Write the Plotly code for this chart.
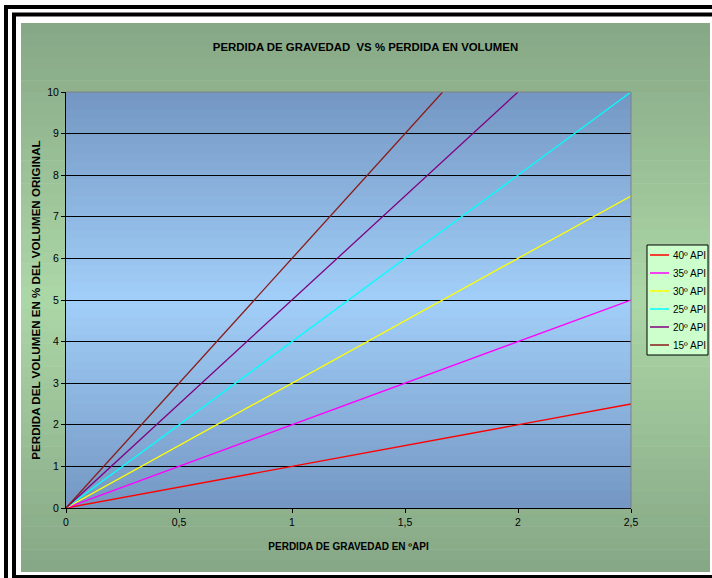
import plotly.graph_objects as go

# ---------------- data ----------------
series_names = ["40º API", "35º API", "30º API", "25º API", "20º API", "15º API"]
series_colors = ["#ff0000", "#ff00ff", "#ffff00", "#00ffff", "#800080", "#8b1a1a"]
x_40 = [0, 0.5, 1, 1.5, 2, 2.5]
y_40 = [0, 0.5, 1, 1.5, 2, 2.5]
x_35 = [0, 0.5, 1, 1.5, 2, 2.5]
y_35 = [0, 1, 2, 3, 4, 5]
x_30 = [0, 0.5, 1, 1.5, 2, 2.5]
y_30 = [0, 1.5, 3, 4.5, 6, 7.5]
x_25 = [0, 0.5, 1, 1.5, 2, 2.5]
y_25 = [0, 2, 4, 6, 8, 10]
x_20 = [0, 0.5, 1, 1.5, 2]
y_20 = [0, 2.5, 5, 7.5, 10]
x_15 = [0, 0.5, 1, 1.5, 1.6667]
y_15 = [0, 3, 6, 9, 10]
x_ticks = [0, 0.5, 1, 1.5, 2, 2.5]
y_ticks = [0, 1, 2, 3, 4, 5, 6, 7, 8, 9, 10]

title_text = "PERDIDA DE GRAVEDAD\u00a0 VS % PERDIDA EN VOLUMEN"
x_title = "PERDIDA DE GRAVEDAD EN ºAPI"
y_title = "PERDIDA DEL VOLUMEN EN % DEL VOLUMEN ORIGINAL"

# ---------------- layout geometry (pixels) ----------------
W, H = 712, 578
PL, PR, PT, PB = 66, 631, 92, 508
FONT = "Liberation Sans, Arial, sans-serif"


def xp(px):
    return (px - PL) / (PR - PL)


def yp(py):
    return (PB - py) / (PB - PT)


def hex2rgb(h):
    h = h.lstrip("#")
    return tuple(int(h[i:i + 2], 16) for i in (0, 2, 4))


def mix(c1, c2, t):
    a, b = hex2rgb(c1), hex2rgb(c2)
    return "rgb(%d,%d,%d)" % tuple(round(a[i] + (b[i] - a[i]) * t) for i in range(3))


def gradient_strips(x0, y0, x1, y1, edge, mid, n=48):
    out = []
    h = (y1 - y0) / n
    for i in range(n):
        t = (i + 0.5) / n
        k = 1 - abs(t - 0.5) * 2
        out.append(dict(type="rect", xref="paper", yref="paper", layer="below",
                        x0=xp(x0), x1=xp(x1), y0=yp(y0 + i * h),
                        y1=yp(min(y0 + (i + 1) * h + 0.6, y1)),
                        fillcolor=mix(edge, mid, k), line=dict(width=0)))
    return out


shapes = []
# double black frame
shapes.append(dict(type="rect", xref="paper", yref="paper", layer="below",
                   x0=xp(6), x1=xp(760), y0=yp(7), y1=yp(640),
                   line=dict(color="black", width=4), fillcolor="white"))
shapes.append(dict(type="rect", xref="paper", yref="paper", layer="below",
                   x0=xp(14), x1=xp(740), y0=yp(14.5), y1=yp(577),
                   line=dict(color="black", width=4), fillcolor="white"))
# chart area gradient (green)
shapes += gradient_strips(21, 23, 710, 572, "#86a786", "#acd7a6")
# plot area gradient (blue)
shapes += gradient_strips(PL, PT, PR, PB, "#7397c2", "#a2cff9")

fig = go.Figure()
xs = [x_40, x_35, x_30, x_25, x_20, x_15]
ys = [y_40, y_35, y_30, y_25, y_20, y_15]
for name, col, xv, yv in zip(series_names, series_colors, xs, ys):
    fig.add_trace(go.Scatter(x=xv, y=yv, mode="lines", name=name,
                             line=dict(color=col, width=1.3), showlegend=False))

# gray top/right plot border
shapes.append(dict(type="line", xref="paper", yref="paper", layer="above",
                   x0=0, x1=1, y0=1, y1=1, line=dict(color="#808080", width=1)))
shapes.append(dict(type="line", xref="paper", yref="paper", layer="above",
                   x0=1, x1=1, y0=0, y1=1, line=dict(color="#808080", width=1)))

# manual legend
LX0, LX1, LY0, LY1 = 647, 708, 245, 355
shapes.append(dict(type="rect", xref="paper", yref="paper", layer="above",
                   x0=xp(LX0), x1=xp(LX1), y0=yp(LY0), y1=yp(LY1),
                   fillcolor="#ccffcc", line=dict(color="black", width=1)))
annotations = []
for i, (name, col) in enumerate(zip(series_names, series_colors)):
    cy = 255 + i * 18
    shapes.append(dict(type="line", xref="paper", yref="paper", layer="above",
                       x0=xp(650), x1=xp(669), y0=yp(cy), y1=yp(cy),
                       line=dict(color=col, width=1.5)))
    annotations.append(dict(xref="paper", yref="paper", x=xp(671), y=yp(cy),
                            xanchor="left", yanchor="middle", showarrow=False,
                            text=name, font=dict(family=FONT, size=10, color="black")))

fig.update_layout(
    width=W, height=H,
    margin=dict(l=PL, r=W - PR, t=PT, b=H - PB, autoexpand=False),
    paper_bgcolor="white",
    plot_bgcolor="rgba(0,0,0,0)",
    separators=",.",
    showlegend=False,
    font=dict(family=FONT, size=10, color="black"),
    title=dict(text="<b>" + title_text + "</b>", x=xp(365.5), xref="paper", xanchor="center",
               y=1 - 47 / H, yref="container", yanchor="middle",
               font=dict(family=FONT, size=11.4, color="black")),
    shapes=shapes,
    annotations=annotations,
    xaxis=dict(range=[0, 2.5], tickvals=x_ticks, showgrid=False, zeroline=False,
               showline=True, linecolor="black", linewidth=1,
               ticks="outside", ticklen=4, tickcolor="black", tickwidth=1,
               tickfont=dict(family=FONT, size=10.5, color="black"),
               title=dict(text="<b>" + x_title + "</b>", standoff=16,
                          font=dict(family=FONT, size=10, color="black"))),
    yaxis=dict(range=[0, 10], tickvals=y_ticks, showgrid=True, gridcolor="black", gridwidth=1,
               zeroline=False, showline=True, linecolor="black", linewidth=1,
               ticks="outside", ticklen=4, tickcolor="black", tickwidth=1,
               tickfont=dict(family=FONT, size=10.5, color="black"),
               title=dict(text="<b>" + y_title + "</b>", standoff=4,
                          font=dict(family=FONT, size=11.6, color="black"))),
)

fig.write_html("out.html", config={"displayModeBar": False},
               post_script="document.body.style.margin='0px';document.body.style.overflow='hidden';")
